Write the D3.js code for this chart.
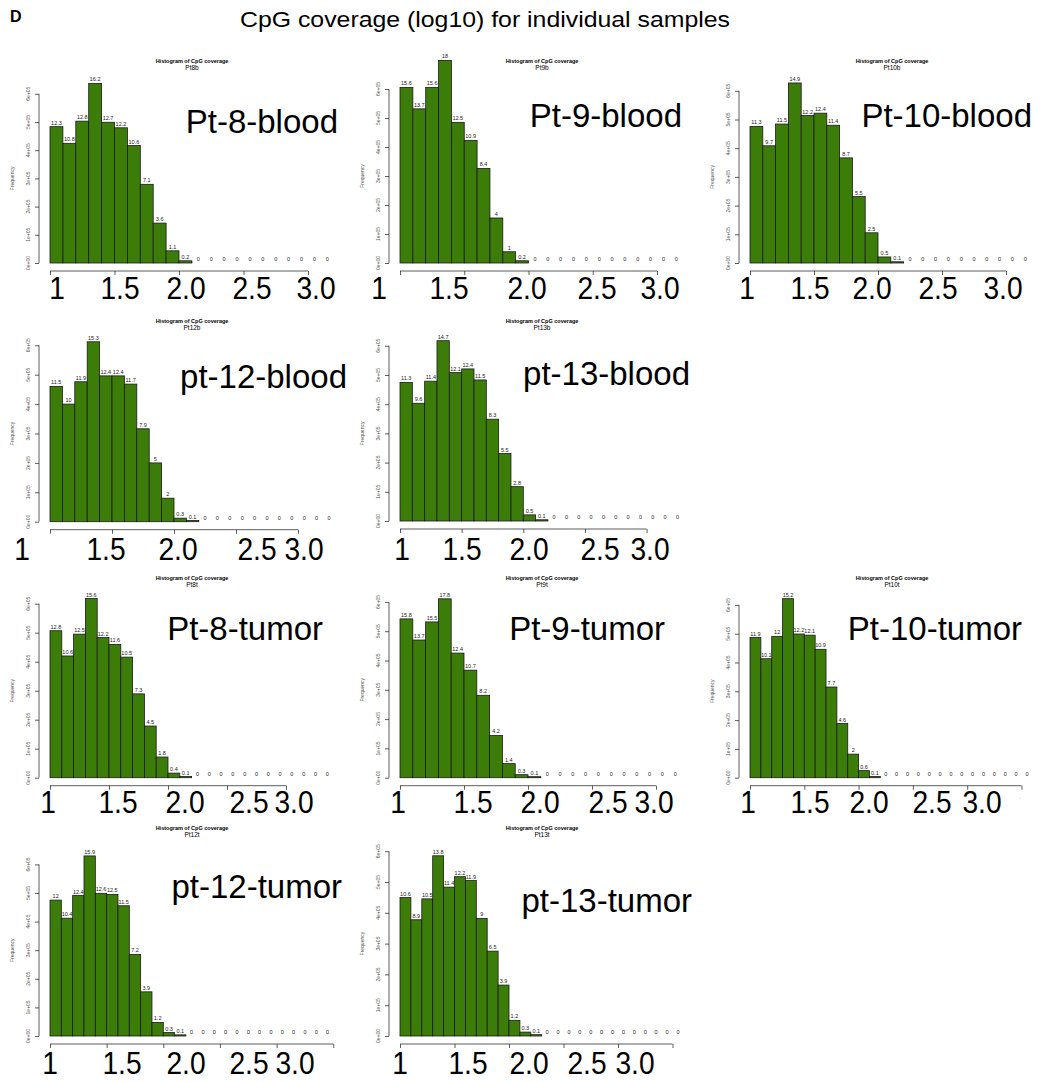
<!DOCTYPE html>
<html>
<head>
<meta charset="utf-8">
<title>CpG coverage histograms</title>
<script src="https://d3js.org/d3.v7.min.js"></script>
<style>
  body { margin: 0; background: #fff; }
  svg text { font-family: "Liberation Sans", Arial, sans-serif; fill: #000; }
  .bar { fill: #3c7d0a; stroke: #1a1a1a; stroke-width: 0.8px; }
  .axis line, .axis path { stroke: #333; stroke-width: 0.8px; }
  .hist-title { font-size: 5.5px; font-weight: bold; }
  .hist-sub { font-size: 6.5px; }
  .tick-lab { font-size: 5px; fill: #555; }
  .bar-lab { font-size: 5.5px; fill: #222; }
  .sample-name { font-size: 33px; }
  .big-x { font-size: 32px; }
</style>
</head>
<body>
<svg id="fig" width="1041" height="1082"></svg>
<script>
// ---- data (percent of CpGs per 0.1 log10 bin, starting at 1.0) ----
const sampleCodes = ["Pt8b", "Pt9b", "Pt10b", "Pt12b", "Pt13b", "Pt8t", "Pt9t", "Pt10t", "Pt12t", "Pt13t"];
const sampleNames = ["Pt-8-blood", "Pt-9-blood", "Pt-10-blood", "pt-12-blood", "pt-13-blood",
                     "Pt-8-tumor", "Pt-9-tumor", "Pt-10-tumor", "pt-12-tumor", "pt-13-tumor"];

const pct8b  = [12.3, 10.8, 12.8, 16.2, 12.7, 12.2, 10.6, 7.1, 3.6, 1.1, 0.2, 0, 0, 0, 0, 0, 0, 0, 0, 0, 0, 0];
const pct9b  = [15.6, 13.7, 15.6, 18, 12.5, 10.9, 8.4, 4, 1, 0.2, 0, 0, 0, 0, 0, 0, 0, 0, 0, 0, 0, 0];
const pct10b = [11.3, 9.7, 11.5, 14.9, 12.2, 12.4, 11.4, 8.7, 5.5, 2.5, 0.5, 0.1, 0, 0, 0, 0, 0, 0, 0, 0, 0, 0];
const pct12b = [11.5, 10, 11.9, 15.3, 12.4, 12.4, 11.7, 7.9, 5, 2, 0.3, 0.1, 0, 0, 0, 0, 0, 0, 0, 0, 0, 0, 0];
const pct13b = [11.3, 9.6, 11.4, 14.7, 12.1, 12.4, 11.5, 8.3, 5.5, 2.8, 0.5, 0.1, 0, 0, 0, 0, 0, 0, 0, 0, 0, 0, 0];
const pct8t  = [12.8, 10.6, 12.5, 15.6, 12.2, 11.6, 10.5, 7.3, 4.5, 1.8, 0.4, 0.1, 0, 0, 0, 0, 0, 0, 0, 0, 0, 0, 0, 0];
const pct9t  = [15.8, 13.7, 15.5, 17.8, 12.4, 10.7, 8.2, 4.2, 1.4, 0.3, 0.1, 0, 0, 0, 0, 0, 0, 0, 0, 0, 0, 0];
const pct10t = [11.9, 10.1, 12, 15.2, 12.2, 12.1, 10.9, 7.7, 4.6, 2, 0.6, 0.1, 0, 0, 0, 0, 0, 0, 0, 0, 0, 0, 0, 0, 0, 0];
const pct12t = [12, 10.4, 12.4, 15.9, 12.6, 12.5, 11.5, 7.2, 3.9, 1.2, 0.3, 0.1, 0, 0, 0, 0, 0, 0, 0, 0, 0, 0, 0, 0, 0];
const pct13t = [10.6, 8.9, 10.5, 13.8, 11.4, 12.2, 11.9, 9, 6.5, 3.9, 1.2, 0.3, 0.1, 0, 0, 0, 0, 0, 0, 0, 0, 0, 0, 0, 0, 0];
const percents = [pct8b, pct9b, pct10b, pct12b, pct13b, pct8t, pct9t, pct10t, pct12t, pct13t];

// estimated number of CpGs per sample (sets bar height against the frequency axis)
const totalCpGs = [3.93e6, 3.88e6, 4.21e6, 4.0e6, 4.2e6, 3.96e6, 3.43e6, 4.09e6, 3.96e6, 4.24e6];
const axisEnd   = [3.0, 3.0, 3.0, 3.0, 3.0, 3.0, 3.0, 3.5, 3.5, 3.5];
const freqTicks = [0, 1e5, 2e5, 3e5, 4e5, 5e5, 6e5];
const freqTickLabels = ["0e+00", "1e+05", "2e+05", "3e+05", "4e+05", "5e+05", "6e+05"];
const bigTickLabels = ["1", "1.5", "2.0", "2.5", "3.0"];
const binStart = 1.0, binWidth = 0.1;

// ---- layout (pixels), one entry per panel ----
const rowTitleY = [63, 323, 580, 830];
const rowBigY = [299, 560, 813, 1074];
const layout = [
  {x0: 0,   row: 0, base: 263,   binPx: 12.9,  tickPx: 28.2, nameEnd: 338, nameY: 133, bigX: [57, 120, 186, 252, 316]},
  {x0: 350, row: 0, base: 263,   binPx: 12.85, tickPx: 29,   nameEnd: 332, nameY: 127, bigX: [29, 99, 177, 247, 310]},
  {x0: 700, row: 0, base: 263,   binPx: 12.8,  tickPx: 28.7, nameEnd: 332, nameY: 127, bigX: [47, 110, 172, 238, 303]},
  {x0: 0,   row: 1, base: 521.7, binPx: 12.4,  tickPx: 29.4, nameEnd: 347, nameY: 388, bigX: [22, 106, 178, 257, 304]},
  {x0: 350, row: 1, base: 521,   binPx: 12.33, tickPx: 29.2, nameEnd: 340, nameY: 385, bigX: [52, 112, 179, 250, 300]},
  {x0: 0,   row: 2, base: 777.7, binPx: 11.8,  tickPx: 29,   nameEnd: 323, nameY: 640, bigX: [48, 118, 185, 249, 294]},
  {x0: 350, row: 2, base: 777.7, binPx: 12.8,  tickPx: 29.3, nameEnd: 315, nameY: 640, bigX: [48, 123, 190, 258, 304]},
  {x0: 700, row: 2, base: 777.7, binPx: 10.86, tickPx: 28.8, nameEnd: 322, nameY: 640, bigX: [48, 110, 169, 232, 282]},
  {x0: 0,   row: 3, base: 1036,  binPx: 11.33, tickPx: 28.6, nameEnd: 342, nameY: 898, bigX: [50, 122, 186, 249, 295]},
  {x0: 350, row: 3, base: 1036,  binPx: 10.9,  tickPx: 30.8, nameEnd: 342, nameY: 912, bigX: [50, 118, 179, 237, 285]}
];

const svg = d3.select("#fig");

svg.append("text").attr("x", 10).attr("y", 22)
   .style("font-size", "16px").style("font-weight", "bold").text("D");
svg.append("text").attr("x", 240).attr("y", 27)
   .style("font-size", "22px").attr("textLength", 490).attr("lengthAdjust", "spacingAndGlyphs")
   .text("CpG coverage (log10) for individual samples");

percents.forEach((vals, i) => drawPanel(i, vals));

function drawPanel(i, vals) {
  const L = layout[i];
  const g = svg.append("g").attr("transform", `translate(${L.x0},0)`);
  const plotLeft = 50;
  const nBins = vals.length;

  const xScale = d3.scaleLinear()
      .domain([binStart, binStart + nBins * binWidth])
      .range([plotLeft, plotLeft + nBins * L.binPx]);
  const yScale = d3.scaleLinear()
      .domain([0, 6e5])
      .range([L.base, L.base - 6 * L.tickPx]);

  const bins = vals.map((v, k) => ({
    v: v, k: k,
    x0: binStart + k * binWidth,
    x1: binStart + (k + 1) * binWidth,
    freq: v / 100 * totalCpGs[i]
  }));

  // bars (zero bins right after the data drawn as flat lines, like R)
  g.selectAll("rect.bar")
    .data(bins.filter(d => d.v > 0 || (d.k > 0 && vals[d.k - 1] > 0)))
    .join("rect")
    .attr("class", "bar")
    .attr("x", d => xScale(d.x0))
    .attr("width", d => xScale(d.x1) - xScale(d.x0))
    .attr("y", d => yScale(d.freq))
    .attr("height", d => yScale(0) - yScale(d.freq));

  g.selectAll("text.bar-lab")
    .data(bins)
    .join("text")
    .attr("class", "bar-lab")
    .attr("text-anchor", "middle")
    .attr("x", d => (xScale(d.x0) + xScale(d.x1)) / 2)
    .attr("y", d => yScale(d.freq) - 2)
    .text(d => String(d.v));

  // y axis, R style
  const yAxis = d3.axisLeft(yScale).tickValues(freqTicks).tickSize(4).tickFormat("");
  g.append("g").attr("class", "axis")
    .attr("transform", `translate(39,0)`)
    .call(yAxis)
    .call(a => a.select(".domain").attr("d", `M0,${yScale(0)}V${yScale(6e5)}`));
  g.selectAll("text.tick-lab")
    .data(freqTicks)
    .join("text")
    .attr("class", "tick-lab")
    .attr("text-anchor", "middle")
    .attr("transform", (d, k) => `translate(30,${yScale(d)}) rotate(-90)`)
    .text((d, k) => freqTickLabels[k]);
  g.append("text")
    .attr("class", "tick-lab")
    .attr("text-anchor", "middle")
    .attr("transform", `translate(14,${yScale(3e5)}) rotate(-90)`)
    .text("Frequency");

  // x axis (labels replaced by the large hand-placed numbers)
  const xTicks = d3.range(binStart, axisEnd[i] + 0.001, 0.5);
  const xAxis = d3.axisBottom(xScale).tickValues(xTicks).tickSize(4).tickFormat("");
  g.append("g").attr("class", "axis")
    .attr("transform", `translate(0,${L.base + 8})`)
    .call(xAxis)
    .call(a => a.select(".domain").attr("d", `M${xScale(binStart)},0H${xScale(axisEnd[i])}`));

  g.selectAll("text.big-x")
    .data(bigTickLabels)
    .join("text")
    .attr("class", "big-x")
    .attr("text-anchor", "middle")
    .attr("transform", (d, k) => `translate(${L.bigX[k]},${rowBigY[L.row]}) scale(0.88,1)`)
    .text(d => d);

  // titles
  const cx = 192;
  g.append("text").attr("class", "hist-title").attr("text-anchor", "middle")
    .attr("x", cx).attr("y", rowTitleY[L.row]).text("Histogram of CpG coverage");
  g.append("text").attr("class", "hist-sub").attr("text-anchor", "middle")
    .attr("x", cx).attr("y", rowTitleY[L.row] + 7).text(sampleCodes[i]);

  g.append("text").attr("class", "sample-name").attr("text-anchor", "end")
    .attr("x", L.nameEnd).attr("y", L.nameY).text(sampleNames[i]);
}

// stray leftover tick mark to the right of the Pt-10-tumor axis
svg.append("text").attr("class", "tick-lab").attr("x", 1019).attr("y", 800).text("·");
</script>
</body>
</html>
